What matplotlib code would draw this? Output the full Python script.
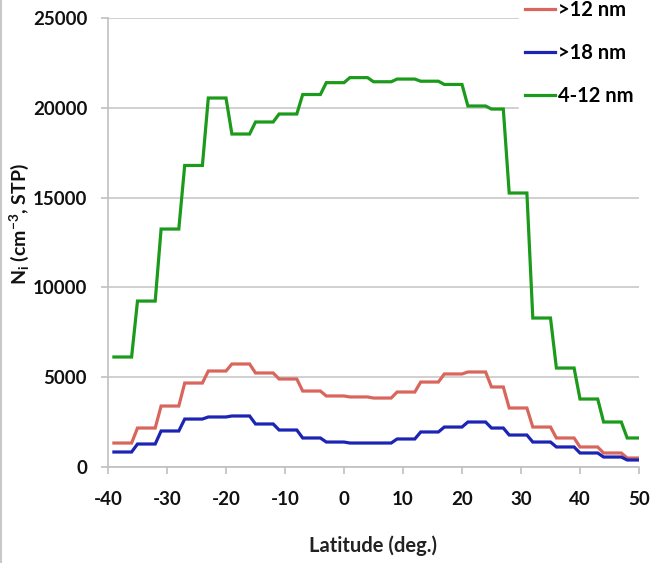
import numpy as np
import matplotlib
matplotlib.use("Agg")
import matplotlib.pyplot as plt
from matplotlib.lines import Line2D

plt.rcParams['font.family'] = ['Lato', 'DejaVu Sans']
plt.rcParams['font.weight'] = 'bold'
plt.rcParams['axes.labelweight'] = 'bold'
plt.rcParams['axes.unicode_minus'] = False
plt.rcParams['mathtext.fontset'] = 'custom'
plt.rcParams['mathtext.rm'] = 'Lato:bold'
plt.rcParams['mathtext.bf'] = 'Lato:bold'
plt.rcParams['mathtext.default'] = 'bf'

# latitude bins (deg.), each value holds flat from bin_start to bin_end
bin_start = [-39, -35, -31, -27, -23, -19, -15, -11, -7, -3, 1, 5, 9, 13,
             17, 21, 25, 28, 32, 36, 40, 44, 48]
bin_end = [-36, -32, -28, -24, -20, -16, -12, -8, -4, 0, 4, 8, 12, 16,
           20, 24, 27, 31, 35, 39, 43, 47, 50]

# number concentrations (cm-3, STP)
n_gt12 = [1335, 2170, 3395, 4675, 5345, 5735, 5235, 4900, 4230, 3955, 3900,
          3840, 4175, 4730, 5180, 5290, 4455, 3285, 2225, 1615, 1115, 780, 500]
n_gt18 = [835, 1280, 2005, 2670, 2785, 2840, 2395, 2060, 1615, 1390, 1335,
          1335, 1560, 1950, 2225, 2505, 2170, 1780, 1390, 1115, 780, 555, 390]
n_4_12 = [6125, 9240, 13250, 16790, 20545, 18540, 19210, 19655, 20740, 21400,
          21680, 21450, 21600, 21480, 21300, 20100, 19930, 15255, 8295, 5510,
          3785, 2505, 1615]

labels = ['>12 nm', '>18 nm', '4-12 nm']
colors = ['#d9665c', '#1c24b4', '#1c9a1c']
xticks = list(range(-40, 51, 10))
yticks = list(range(0, 25001, 5000))


def steps(vals):
    # flat segment for each bin, joined by the sloped transitions
    x = np.column_stack([bin_start, bin_end]).ravel()
    y = np.repeat(vals, 2)
    return x, y


fig = plt.figure(figsize=(6.53, 5.63), dpi=100)
ax = fig.add_axes([108 / 653, 1 - 467 / 563, 531 / 653, 449 / 563])

for vals, lab, col in zip([n_gt12, n_gt18, n_4_12], labels, colors):
    x, y = steps(vals)
    ax.plot(x, y, color=col, lw=2.3, label=lab, solid_joinstyle='miter', zorder=3)

ax.set_xlim(-40, 50)
ax.set_ylim(0, 25000)
ax.set_xticks(xticks)
ax.set_yticks(yticks)
ax.yaxis.grid(True, color='#c8c8c8', lw=1.2)
ax.set_axisbelow(True)

for s in ['top', 'right']:
    ax.spines[s].set_visible(False)
for s in ['left', 'bottom']:
    ax.spines[s].set_color('#c0c0c0')
    ax.spines[s].set_linewidth(1.2)

ax.tick_params(axis='both', colors='#c0c0c0', labelcolor='#111111',
               labelsize=13.5, length=5, width=1.2)
ax.tick_params(axis='y', pad=10)
ax.tick_params(axis='x', pad=12)
for t in ax.get_xticklabels() + ax.get_yticklabels():
    t.set_fontweight('bold')

ax.set_xlabel('Latitude (deg.)', fontsize=14.5, fontweight='bold',
              color='#222222', labelpad=20)
ax.set_ylabel(r'N$_{i}$ (cm$^{-3}$, STP)', fontsize=14, fontweight='bold',
              color='#111111', labelpad=1)
ax.yaxis.set_label_coords(-0.145, 0.54)

leg = fig.legend(loc='upper left', bbox_to_anchor=(519 / 653, 1 + 6 / 563),
                 frameon=True, handlelength=1.5,
                 handletextpad=0.15, labelspacing=1.15, borderpad=0.3,
                 borderaxespad=0, prop={'weight': 'bold', 'size': 14.5})
leg.get_frame().set_facecolor('white')
leg.get_frame().set_edgecolor('white')
leg.get_frame().set_alpha(1)

# thin grey border on the left edge of the picture
fig.add_artist(Line2D([0.002, 0.002], [0, 1], color='#c8c8c8', lw=1.5,
                      transform=fig.transFigure))

fig.savefig('out.png', dpi=100)
